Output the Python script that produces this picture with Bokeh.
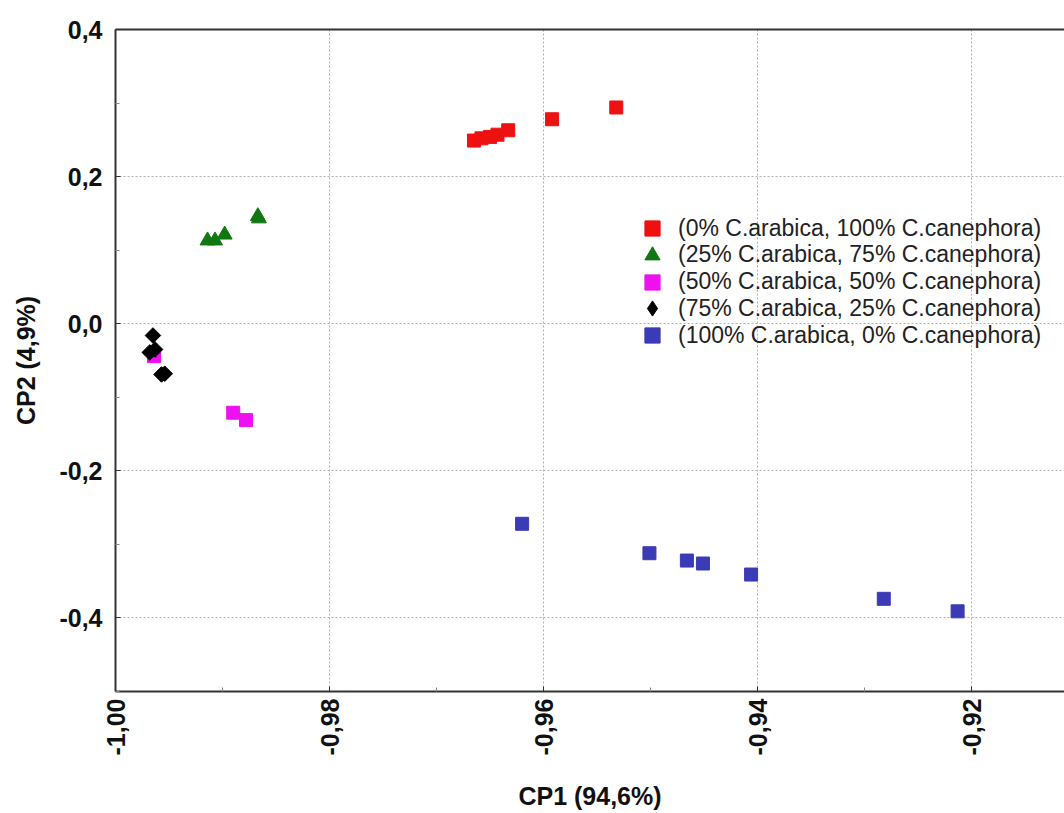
import math
from bokeh.plotting import figure
from bokeh.models import (ColumnDataSource, Range1d, FixedTicker, CustomJSTickFormatter,
                          Legend, LegendItem, LinearAxis)
from bokeh.embed import file_html
from bokeh.resources import INLINE

# PCA scores (CP1, CP2) per blend
group_labels = [
    "(0% C.arabica, 100% C.canephora)",
    "(25% C.arabica, 75% C.canephora)",
    "(50% C.arabica, 50% C.canephora)",
    "(75% C.arabica, 25% C.canephora)",
    "(100% C.arabica, 0% C.canephora)",
]

cp1_a0 = [-0.9665, -0.9658, -0.9650, -0.9643, -0.9633, -0.9592, -0.9532]
cp2_a0 = [0.249, 0.252, 0.254, 0.257, 0.263, 0.278, 0.294]

cp1_a25 = [-0.9914, -0.9907, -0.9898, -0.9867, -0.9866]
cp2_a25 = [0.113, 0.113, 0.121, 0.146, 0.143]

cp1_a50 = [-0.9964, -0.9890, -0.9878]
cp2_a50 = [-0.044, -0.121, -0.131]

cp1_a75 = [-0.9965, -0.9963, -0.9968, -0.9954, -0.9957]
cp2_a75 = [-0.016, -0.035, -0.039, -0.068, -0.069]

cp1_a100 = [-0.9620, -0.9501, -0.9466, -0.9451, -0.9406, -0.9282, -0.9213]
cp2_a100 = [-0.272, -0.312, -0.322, -0.326, -0.341, -0.374, -0.391]

x_ticks = [-1.00, -0.98, -0.96, -0.94, -0.92]
x_minor = [-0.99, -0.97, -0.95, -0.93, -0.91]
y_ticks = [-0.4, -0.2, 0.0, 0.2, 0.4]
y_minor = [-0.5, -0.3, -0.1, 0.1, 0.3]

FONT = "Liberation Sans"
AXIS_COLOR = "#333333"

p = figure(frame_width=949, frame_height=662,
           min_border_left=115, min_border_top=29, min_border_right=0, min_border_bottom=122,
           x_range=Range1d(-1.0, -0.91131), y_range=Range1d(-0.5, 0.4),
           output_backend="svg", toolbar_location=None,
           background_fill_color="white", border_fill_color="white")
p.outline_line_color = None

# axes
p.xaxis.ticker = FixedTicker(ticks=x_ticks, minor_ticks=x_minor)
p.yaxis.ticker = FixedTicker(ticks=y_ticks, minor_ticks=y_minor)
p.xaxis.formatter = CustomJSTickFormatter(code="return tick.toFixed(2).replace('.', ',');")
p.yaxis.formatter = CustomJSTickFormatter(code="return tick.toFixed(1).replace('.', ',');")
p.xaxis.major_label_orientation = math.pi / 2
p.xaxis.axis_label = "CP1 (94,6%)"
p.yaxis.axis_label = "CP2 (4,9%)"

for ax in (p.xaxis, p.yaxis):
    ax.axis_line_color = AXIS_COLOR
    ax.axis_line_width = 2
    ax.major_tick_in = 5
    ax.major_tick_out = 0
    ax.minor_tick_in = 4
    ax.minor_tick_out = 0
    ax.major_tick_line_color = AXIS_COLOR
    ax.minor_tick_line_color = "#888888"
    ax.major_label_text_font = FONT
    ax.major_label_text_font_style = "bold"
    ax.major_label_text_font_size = "25px"
    ax.major_label_text_color = "#111111"
    ax.axis_label_text_font = FONT
    ax.axis_label_text_font_style = "bold"
    ax.axis_label_text_font_size = "25px"
    ax.axis_label_text_color = "#111111"

p.xaxis.major_label_standoff = 7
p.yaxis.major_label_standoff = 13
p.xaxis.axis_label_standoff = 24
p.yaxis.axis_label_standoff = 16

# top border line
top = LinearAxis(ticker=FixedTicker(ticks=[]), major_label_text_font_size="0px",
                 axis_line_color=AXIS_COLOR, axis_line_width=2,
                 major_tick_in=0, major_tick_out=0, minor_tick_in=0, minor_tick_out=0)
p.add_layout(top, "above")

for g in (p.xgrid, p.ygrid):
    g.grid_line_color = "#b0b0b0"
    g.grid_line_dash = "2 2"
    g.grid_line_width = 1
p.xgrid.ticker = FixedTicker(ticks=x_ticks)
p.ygrid.ticker = FixedTicker(ticks=y_ticks)

styles = [
    (cp1_a0, cp2_a0, "square", 13, 0.0, "#ee1111"),
    (cp1_a25, cp2_a25, "triangle", 15, 0.0, "#117711"),
    (cp1_a50, cp2_a50, "square", 13, 0.0, "#ee11ee"),
    (cp1_a75, cp2_a75, "square", 11, math.pi / 4, "#000000"),
    (cp1_a100, cp2_a100, "square", 13, 0.0, "#3b3bb5"),
]

# one legend per row so the key markers can be larger than the row pitch
row_pitch = 26.75
first_row_from_bottom = 691 - 29 - (228 - 29)  # first row centre above frame bottom
glyph_box = 38

for i, (label, (xs, ys, marker, size, angle, color)) in enumerate(zip(group_labels, styles)):
    src = ColumnDataSource(dict(x=xs, y=ys))
    r = p.scatter("x", "y", source=src, marker=marker, size=size, angle=angle,
                  fill_color=color, line_color=color, line_width=1, line_join="round")
    key = r
    if angle != 0.0:
        # key glyph for the rotated-square series
        key = p.scatter("x", "y", source=src, marker="diamond", size=size,
                        fill_color=color, line_color=color, line_width=1, visible=False)
    centre = first_row_from_bottom - i * row_pitch
    lg = Legend(items=[LegendItem(label=label, renderers=[key])],
                location=(518, centre - glyph_box / 2),
                glyph_width=glyph_box, glyph_height=glyph_box, label_height=20,
                label_standoff=7, padding=0, margin=0, spacing=0,
                label_text_font=FONT, label_text_font_size="23px",
                label_text_color="#222222",
                inactive_fill_alpha=0,
                border_line_color=None, background_fill_alpha=0)
    p.add_layout(lg, "center")

open("out.html", "w").write(file_html(p, INLINE))
